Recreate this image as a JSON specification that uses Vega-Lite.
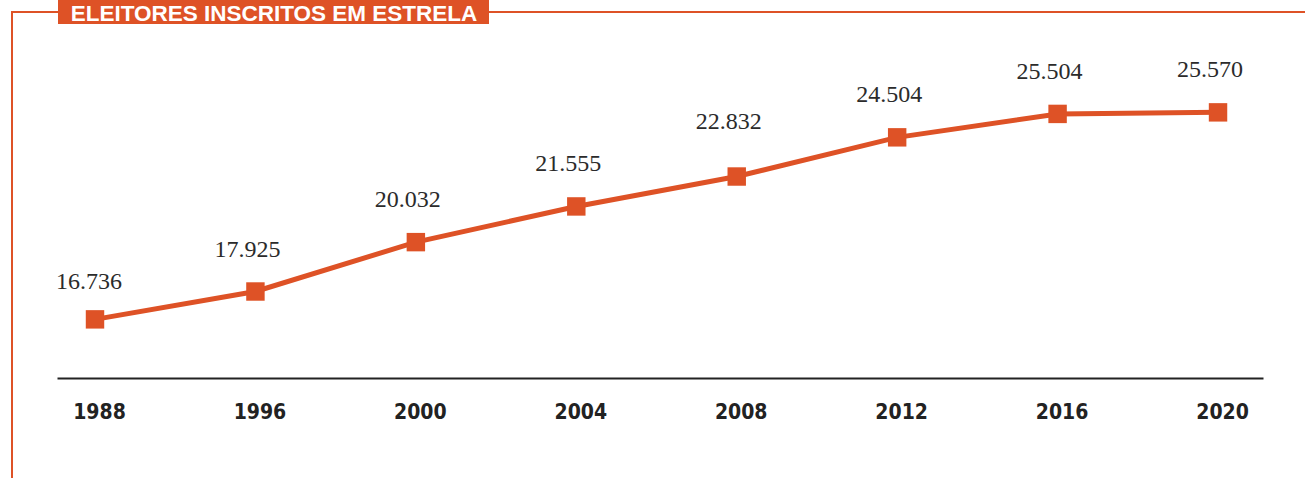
{
  "$schema": "https://vega.github.io/schema/vega-lite/v6.json",
  "width": 1300,
  "height": 475,
  "autosize": {"type": "none"},
  "padding": {"left": 12, "top": 12, "right": 0, "bottom": 0},
  "background": "white",
  "config": {"view": {"stroke": "#DE5226", "strokeWidth": 2}},
  "data": {
    "values": [
      {"year": "1988", "eleitores": 16736, "label": "16.736"},
      {"year": "1996", "eleitores": 17925, "label": "17.925"},
      {"year": "2000", "eleitores": 20032, "label": "20.032"},
      {"year": "2004", "eleitores": 21555, "label": "21.555"},
      {"year": "2008", "eleitores": 22832, "label": "22.832"},
      {"year": "2012", "eleitores": 24504, "label": "24.504"},
      {"year": "2016", "eleitores": 25504, "label": "25.504"},
      {"year": "2020", "eleitores": 25570, "label": "25.570"}
    ]
  },
  "layer": [
    {
      "data": {"values": [{"title": "ELEITORES INSCRITOS EM ESTRELA"}]},
      "mark": {"type": "rect", "color": "#DE5226"},
      "encoding": {
        "x": {"value": 46},
        "x2": {"value": 477},
        "y": {"value": -22},
        "y2": {"value": 12}
      }
    },
    {
      "data": {"values": [{"title": "ELEITORES INSCRITOS EM ESTRELA"}]},
      "mark": {
        "type": "text",
        "color": "white",
        "font": "Liberation Sans",
        "fontWeight": "bold",
        "fontSize": 22.5,
        "align": "center",
        "baseline": "alphabetic"
      },
      "encoding": {
        "x": {"value": 262},
        "y": {"value": 8.5},
        "text": {"field": "title"}
      }
    },
    {
      "encoding": {
        "x": {
          "field": "year",
          "type": "ordinal",
          "scale": {"type": "point", "range": [45, 1251], "padding": 0.2586, "align": 0.458},
          "axis": {
            "title": null,
            "orient": "bottom",
            "offset": -109,
            "domainColor": "#222222",
            "domainWidth": 2,
            "ticks": false,
            "tickSize": 0,
            "grid": false,
            "labelAngle": 0,
            "labelFont": "DejaVu Sans Condensed",
            "labelFontWeight": "bold",
            "labelFontSize": 21,
            "labelColor": "#222222",
            "labelPadding": 40,
            "labelBaseline": "alphabetic",
            "labelOffset": 4,
            "labelOverlap": false
          }
        },
        "y": {
          "field": "eleitores",
          "type": "quantitative",
          "scale": {"domain": [9582, 29853], "nice": false, "zero": false},
          "axis": null
        }
      },
      "layer": [
        {"mark": {"type": "line", "color": "#DE5226", "strokeWidth": 5}},
        {"mark": {"type": "square", "color": "#DE5226", "filled": true, "opacity": 1, "size": 340}},
        {
          "transform": [{"filter": "datum.year != '1988' && datum.year != '2008'"}],
          "mark": {"type": "text", "font": "Liberation Serif", "fontSize": 24, "color": "#2b2b2b", "dx": -8, "dy": -35, "baseline": "alphabetic"},
          "encoding": {"text": {"field": "label"}}
        },
        {
          "transform": [{"filter": "datum.year == '1988'"}],
          "mark": {"type": "text", "font": "Liberation Serif", "fontSize": 24, "color": "#2b2b2b", "dx": -6, "dy": -30, "baseline": "alphabetic"},
          "encoding": {"text": {"field": "label"}}
        },
        {
          "transform": [{"filter": "datum.year == '2008'"}],
          "mark": {"type": "text", "font": "Liberation Serif", "fontSize": 24, "color": "#2b2b2b", "dx": -8, "dy": -48, "baseline": "alphabetic"},
          "encoding": {"text": {"field": "label"}}
        }
      ]
    }
  ]
}
